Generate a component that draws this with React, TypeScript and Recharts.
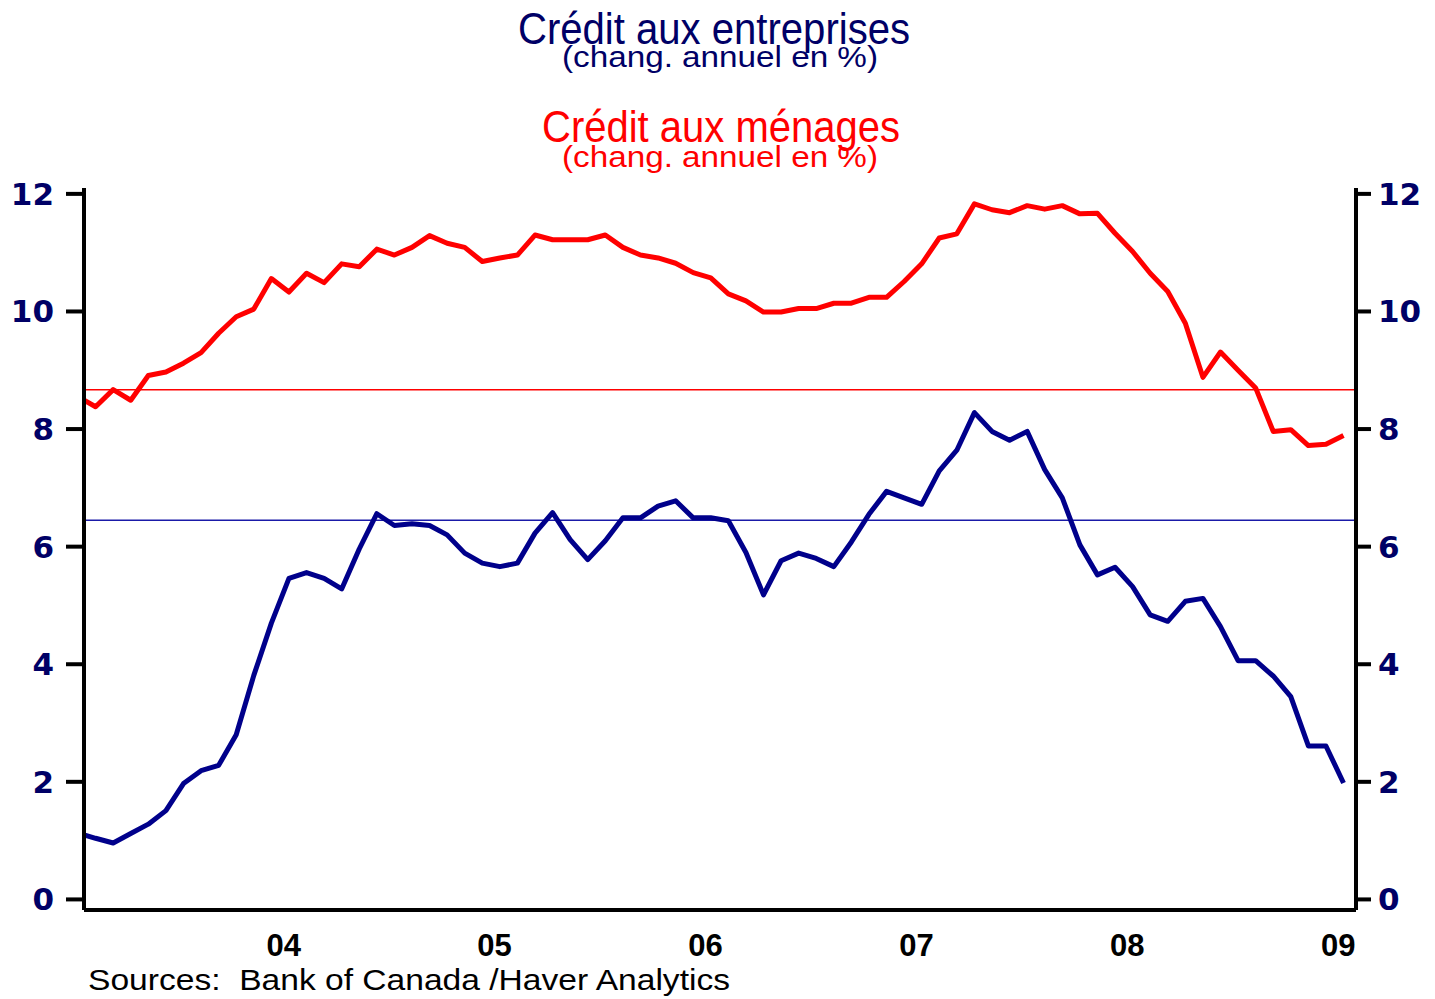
import React from 'react';
import { LineChart, Line, XAxis, YAxis, ReferenceLine } from 'recharts';

// monthly, Jan 2003 .. Jan 2009
const START_YEAR = 2003;
const yearLabels = ['04', '05', '06', '07', '08', '09'];
const yTicks = [0, 2, 4, 6, 8, 10, 12];

// Crédit aux ménages (chang. annuel en %)
const householdCredit = [
  8.55, 8.38, 8.67, 8.49, 8.91, 8.97, 9.12, 9.3, 9.63, 9.91, 10.04, 10.56,
  10.33, 10.65, 10.49, 10.81, 10.76, 11.06, 10.96, 11.09, 11.29, 11.16, 11.09, 10.85,
  10.91, 10.96, 11.3, 11.22, 11.22, 11.22, 11.3, 11.09, 10.96, 10.91, 10.82, 10.66,
  10.57, 10.3, 10.18, 9.99, 9.99, 10.05, 10.05, 10.14, 10.14, 10.24, 10.24, 10.51,
  10.81, 11.25, 11.32, 11.83, 11.73, 11.68, 11.8, 11.74, 11.8, 11.66, 11.67, 11.33,
  11.02, 10.65, 10.34, 9.8, 8.88, 9.31, 9.0, 8.7, 7.96, 7.99, 7.72, 7.74,
  7.89,
];

// Crédit aux entreprises (chang. annuel en %)
const businessCredit = [
  1.13, 1.04, 0.96, 1.12, 1.28, 1.51, 1.97, 2.19, 2.28, 2.8, 3.81, 4.7,
  5.46, 5.56, 5.46, 5.28, 5.96, 6.56, 6.36, 6.39, 6.36, 6.2, 5.89, 5.72,
  5.66, 5.72, 6.23, 6.58, 6.12, 5.78, 6.1, 6.49, 6.49, 6.69, 6.78, 6.49,
  6.49, 6.44, 5.9, 5.18, 5.76, 5.89, 5.8, 5.66, 6.08, 6.55, 6.94, 6.83,
  6.72, 7.29, 7.64, 8.28, 7.96, 7.81, 7.96, 7.31, 6.83, 6.03, 5.52, 5.65,
  5.32, 4.84, 4.73, 5.07, 5.12, 4.64, 4.06, 4.06, 3.8, 3.45, 2.61, 2.61,
  1.98,
];

// long-run averages drawn as thin horizontal lines
const householdAvg = 8.67;
const businessAvg = 6.45;

const data = householdCredit.map((v, i) => ({
  t: i,
  month: `${START_YEAR + Math.floor(i / 12)}-${String((i % 12) + 1).padStart(2, '0')}`,
  menages: v,
  entreprises: businessCredit[i],
}));

const xTicks = yearLabels.map((_, n) => 12 * (n + 1) - 0.3);
const xDomain = [0.34, 72.71];
const yDomain = [-0.18, 12.1];

const NAVY = '#000066';
const BLUE = '#00008B';
const RED = '#FF0000';

const yTick = { fill: NAVY, fontSize: 31, fontWeight: 'bold', fontFamily: 'DejaVu Sans' };

const App: React.FC = () => {
  return (
    <div style={{ position: 'absolute', left: 0, top: 0, width: 1435, height: 999, background: '#fff' }}>
      <LineChart width={1435} height={999} data={data} margin={{ top: 188, right: 9, bottom: 29, left: 10 }}>
        <XAxis
          dataKey="t"
          type="number"
          domain={xDomain}
          allowDataOverflow
          ticks={xTicks}
          tickFormatter={(v: number) => yearLabels[Math.round((v + 0.3) / 12) - 1]}
          axisLine={{ stroke: '#000', strokeWidth: 4 }}
          tickLine={false}
          height={60}
          tickMargin={18}
          tick={{ fill: '#000', fontSize: 31, fontWeight: 'bold', fontFamily: 'Liberation Sans' }}
        />
        <XAxis
          xAxisId="top"
          orientation="top"
          dataKey="t"
          type="number"
          domain={xDomain}
          allowDataOverflow
          height={0}
          tick={false}
          tickLine={false}
          axisLine={{ stroke: '#000', strokeWidth: 4 }}
        />
        <YAxis
          yAxisId="left"
          type="number"
          domain={yDomain}
          allowDataOverflow
          ticks={yTicks}
          width={74}
          tickSize={18}
          tickMargin={12}
          axisLine={{ stroke: '#000', strokeWidth: 4 }}
          tickLine={{ stroke: '#000', strokeWidth: 4 }}
          tick={yTick}
        />
        <YAxis
          yAxisId="right"
          orientation="right"
          type="number"
          domain={yDomain}
          allowDataOverflow
          ticks={yTicks}
          width={70}
          tickSize={15}
          tickMargin={7}
          axisLine={{ stroke: '#000', strokeWidth: 4 }}
          tickLine={{ stroke: '#000', strokeWidth: 4 }}
          tick={yTick}
        />
        <ReferenceLine yAxisId="left" y={householdAvg} stroke={RED} strokeWidth={1.5} />
        <ReferenceLine yAxisId="left" y={businessAvg} stroke="#1a1aa8" strokeWidth={1.5} />
        <Line
          yAxisId="left"
          type="linear"
          dataKey="menages"
          stroke={RED}
          strokeWidth={5}
          strokeLinejoin="round"
          dot={false}
          isAnimationActive={false}
        />
        <Line
          yAxisId="left"
          type="linear"
          dataKey="entreprises"
          stroke={BLUE}
          strokeWidth={5}
          strokeLinejoin="round"
          dot={false}
          isAnimationActive={false}
        />
      </LineChart>

      {/* titles and source note */}
      <svg
        width={1435}
        height={999}
        style={{ position: 'absolute', left: 0, top: 0, pointerEvents: 'none' }}
        fontFamily="Liberation Sans, Arial, sans-serif"
      >
        <text x={518} y={44} fontSize={44} fill={NAVY} textLength={392} lengthAdjust="spacingAndGlyphs">
          Crédit aux entreprises
        </text>
        <text x={562} y={67} fontSize={29} fill={NAVY} textLength={316} lengthAdjust="spacingAndGlyphs">
          (chang. annuel en %)
        </text>
        <text x={542} y={142} fontSize={44} fill={RED} textLength={358} lengthAdjust="spacingAndGlyphs">
          Crédit aux ménages
        </text>
        <text x={562} y={167} fontSize={29} fill={RED} textLength={316} lengthAdjust="spacingAndGlyphs">
          (chang. annuel en %)
        </text>
        <text
          x={88}
          y={990}
          fontSize={30}
          fill="#000"
          textLength={642}
          lengthAdjust="spacingAndGlyphs"
          style={{ whiteSpace: 'pre' }}
        >
          {'Sources:  Bank of Canada /Haver Analytics'}
        </text>
      </svg>
    </div>
  );
};

export default App;
